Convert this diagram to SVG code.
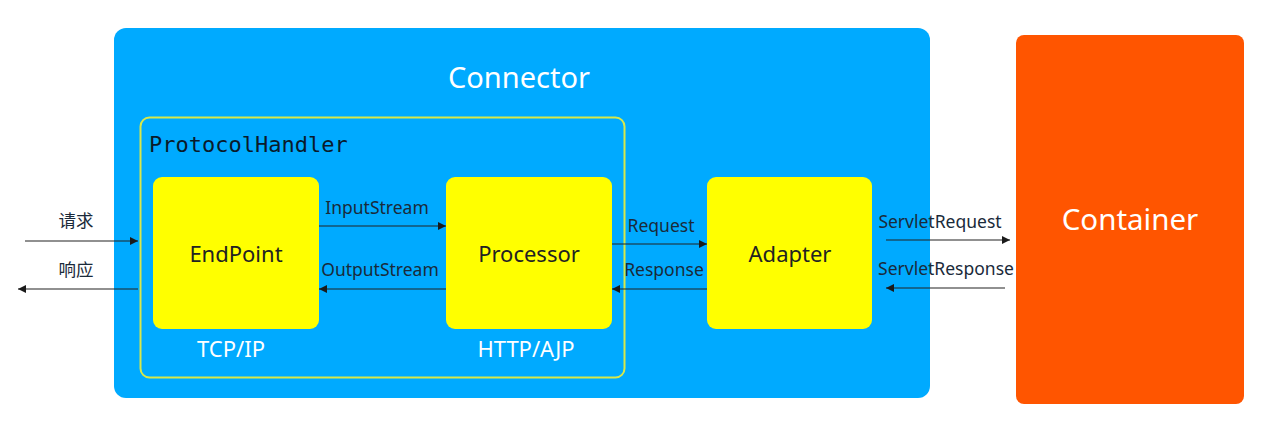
<svg xmlns="http://www.w3.org/2000/svg" width="1278" height="432" viewBox="0 0 1278 432">
<defs>
<marker id="ah" viewBox="0 0 10 10" refX="10" refY="5" markerWidth="8" markerHeight="8" markerUnits="userSpaceOnUse" orient="auto">
<path d="M0,0 L10,5 L0,10 z" fill="#1a1a1a"/>
</marker>
<style>
text{font-family:"Noto Sans","Noto Sans CJK SC",sans-serif}
.lbl{font-size:17.5px;fill:#1a2a3a}
.node{font-size:22px;fill:#222;text-anchor:middle}
.yel{fill:#FFFF00}
.con{stroke:#222;stroke-width:1.2;fill:none;marker-end:url(#ah)}
.wt{fill:#fff;text-anchor:middle}
</style>
</defs>
<rect width="1278" height="432" fill="#fff"/>
<g id="connector">
<rect x="114" y="28" width="816" height="370" rx="12" fill="#00AAFF"/>
<text x="519" y="88" class="wt" font-size="29">Connector</text>
</g>
<g id="protocolhandler">
<rect x="140.5" y="117.5" width="484" height="260" rx="9" fill="none" stroke="#D8E84A" stroke-width="2"/>
<text x="149" y="152" style="font-family:'DejaVu Sans Mono',monospace" font-size="22" fill="#0a1a2a">ProtocolHandler</text>
<text x="231" y="357" class="wt" font-size="22">TCP/IP</text>
<text x="526" y="357" class="wt" font-size="22">HTTP/AJP</text>
</g>
<g id="endpoint">
<rect x="153" y="177" width="166" height="152" rx="9" class="yel"/>
<text x="236" y="262" class="node">EndPoint</text>
</g>
<g id="processor">
<rect x="446" y="177" width="166" height="152" rx="9" class="yel"/>
<text x="529" y="262" class="node">Processor</text>
</g>
<g id="adapter">
<rect x="707" y="177" width="165" height="152" rx="9" class="yel"/>
<text x="790" y="262" class="node">Adapter</text>
</g>
<g id="container">
<rect x="1016" y="35" width="228" height="369" rx="8" fill="#FF5500"/>
<text x="1130" y="230" class="wt" font-size="29.5">Container</text>
</g>
<g id="connectors">
<line x1="25" y1="241" x2="138" y2="241" class="con"/>
<line x1="138" y1="289" x2="18" y2="289" class="con"/>
<line x1="319" y1="226" x2="446" y2="226" class="con"/>
<line x1="446" y1="289" x2="319" y2="289" class="con"/>
<line x1="612" y1="244" x2="707" y2="244" class="con"/>
<line x1="707" y1="289" x2="612" y2="289" class="con"/>
<line x1="886" y1="240" x2="1010" y2="240" class="con"/>
<line x1="1005" y1="288" x2="886" y2="288" class="con"/>
<text x="76" y="227" class="lbl" text-anchor="middle">请求</text>
<text x="76" y="276" class="lbl" text-anchor="middle">响应</text>
<text x="377" y="214" class="lbl" text-anchor="middle">InputStream</text>
<text x="380" y="276" class="lbl" text-anchor="middle">OutputStream</text>
<text x="661" y="232" class="lbl" text-anchor="middle">Request</text>
<text x="664" y="276" class="lbl" text-anchor="middle">Response</text>
<text x="940" y="228" class="lbl" text-anchor="middle">ServletRequest</text>
<text x="946" y="275" class="lbl" text-anchor="middle">ServletResponse</text>
</g>
</svg>
